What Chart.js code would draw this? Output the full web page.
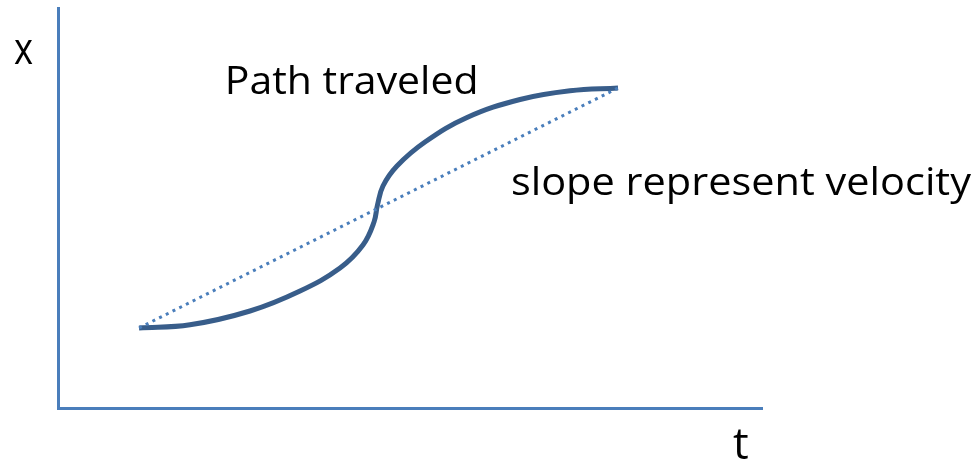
<!DOCTYPE html>
<html>
<head>
<meta charset="utf-8">
<script src="https://cdn.jsdelivr.net/npm/chart.js@4.4.1/dist/chart.umd.min.js"></script>
<style>
  html, body { margin: 0; padding: 0; background: #ffffff; }
  #wrap { width: 978px; height: 465px; position: relative; }
</style>
</head>
<body>
<div id="wrap"><canvas id="c" width="978" height="465"></canvas></div>
<script>
// Path traveled: time t and position x (arbitrary units, 0-100)
const pathT = [11.51, 18.75, 27.27, 34.38, 40.06, 43.32, 44.89, 45.38, 46.16, 48.15, 52.13, 58.10, 65.63, 72.73, 79.55];
const pathX = [20.0, 20.8, 24.25, 29.25, 35.0, 40.75, 46.5, 50.75, 55.5, 60.5, 66.5, 72.63, 77.13, 79.3, 80.0];
// Straight chord between start and end (slope = average velocity)
const chordT = [11.51, 79.55];
const chordX = [20.0, 80.0];
// Text labels
const axisXLabel = "x";
const axisTLabel = "t";
const pathLabel = "Path traveled";
const slopeLabel = "slope represent velocity";

const toPts = (ts, xs) => ts.map((t, i) => ({ x: t, y: xs[i] }));

const textPlugin = {
  id: 'texts',
  afterDraw(chart) {
    const ctx = chart.ctx;
    const items = [
      { text: axisXLabel, size: 44, left: 14, right: 33, base: 64 },
      { text: axisTLabel, size: 44, left: 733, right: 748, base: 459 },
      { text: pathLabel, size: 38, left: 228, right: 475, base: 94 },
      { text: slopeLabel, size: 38, left: 512, right: 972, base: 195 }
    ];
    ctx.save();
    ctx.fillStyle = '#000000';
    ctx.textBaseline = 'alphabetic';
    ctx.textAlign = 'left';
    items.forEach(it => {
      ctx.font = it.size + 'px "Open Sans"';
      const m = ctx.measureText(it.text);
      const w = m.actualBoundingBoxRight + m.actualBoundingBoxLeft;
      const sx = (it.right - it.left) / w;
      ctx.save();
      ctx.translate(it.left, it.base);
      ctx.scale(sx, 1);
      ctx.fillText(it.text, m.actualBoundingBoxLeft, 0);
      ctx.restore();
    });
    ctx.restore();
  }
};

new Chart(document.getElementById('c'), {
  type: 'line',
  data: {
    datasets: [
      {
        label: 'chord',
        data: toPts(chordT, chordX),
        borderColor: '#4a7ebb',
        borderWidth: 3,
        borderDash: [3, 4.5],
        pointRadius: 0,
        tension: 0,
        fill: false
      },
      {
        label: 'path',
        data: toPts(pathT, pathX),
        borderColor: '#385d8a',
        borderWidth: 5,
        tension: 0.4,
        borderCapStyle: 'butt',
        borderJoinStyle: 'round',
        pointRadius: 0,
        fill: false
      }
    ]
  },
  options: {
    responsive: false,
    animation: false,
    events: [],
    layout: { padding: { left: 58, top: 8, right: 216, bottom: 57 } },
    plugins: { legend: { display: false }, tooltip: { enabled: false } },
    scales: {
      x: {
        type: 'linear', min: 0, max: 100,
        ticks: { display: false },
        grid: { display: false, drawTicks: false },
        border: { display: true, color: '#4a7ebb', width: 3 },
        afterFit(s) { s.height = 0; }
      },
      y: {
        type: 'linear', min: 0, max: 100,
        ticks: { display: false },
        grid: { display: false, drawTicks: false },
        border: { display: true, color: '#4a7ebb', width: 3 },
        afterFit(s) { s.width = 0; }
      }
    }
  },
  plugins: [textPlugin]
});
</script>
</body>
</html>
